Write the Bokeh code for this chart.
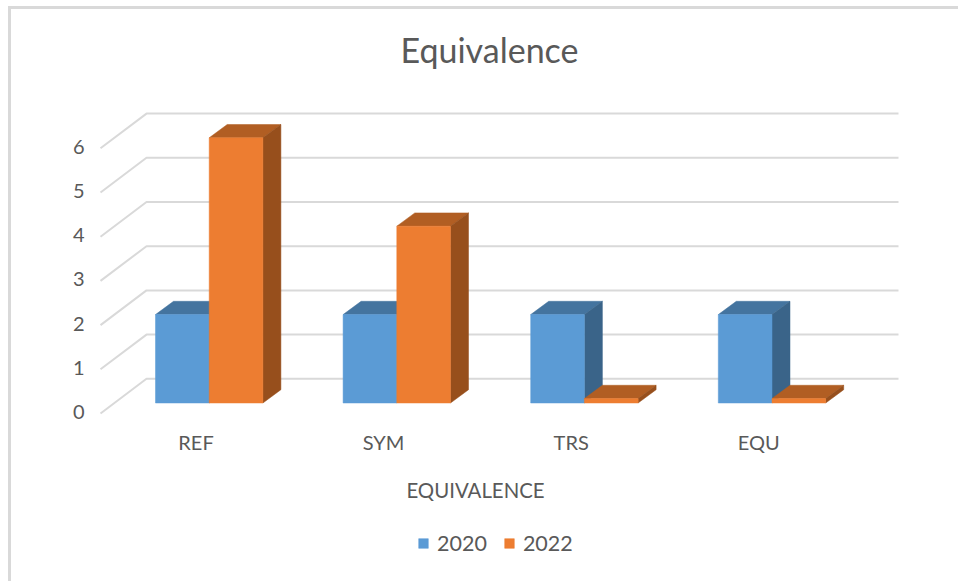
from bokeh.embed import file_html
from bokeh.models import (ColumnDataSource, FixedTicker, Label, Legend, LegendItem,
                          LinearAxis, Range1d)
from bokeh.plotting import figure
from bokeh.resources import INLINE

# Chart content
TITLE = "Equivalence"
X_TITLE = "EQUIVALENCE"
CATEGORIES = ["REF", "SYM", "TRS", "EQU"]
Y_TICKS = [0, 1, 2, 3, 4, 5, 6]
SERIES_2020 = [2, 2, 2, 2]
SERIES_2022 = [6, 4, 0.1, 0.1]

# Palette
FONT = "Lato"
TEXT = "#595959"
GRID = "#d9d9d9"
BLUE = ("#5b9bd5", "#44749f", "#3a6489")
ORANGE = ("#ed7d31", "#b15e23", "#974f1c")

# The frame fills the page; these set the scales and the oblique 3-D projection
PAGE_W, PAGE_H = 958, 581
PX_PER_CAT = 187.6
PX_PER_UNIT = 44.2
FIRST_CAT_PX = 195.5
ZERO_PX = 411.5


def sx(px):
    return px / PX_PER_CAT


def sy(px):
    return px / PX_PER_UNIT


def page_x(px):
    return sx(px - FIRST_CAT_PX)


def page_y(px):
    return sy(ZERO_PX - px)


p = figure(
    width=PAGE_W, height=PAGE_H, output_backend="svg", toolbar_location=None,
    x_axis_location=None, y_axis_location=None,
    x_range=Range1d(page_x(0), page_x(PAGE_W)),
    y_range=Range1d(page_y(PAGE_H), page_y(0)),
    min_border_left=0, min_border_right=0, min_border_top=0, min_border_bottom=0,
    background_fill_alpha=0, border_fill_alpha=0,
)
p.outline_line_color = None
p.grid.visible = False

# Chart-area border: only the left and top edges show on the page
p.styles = {
    "background-color": "white",
    "background-image": f"linear-gradient({GRID},{GRID}),linear-gradient({GRID},{GRID})",
    "background-size": "950px 3px,3px 575px",
    "background-position": "8px 6px,8px 6px",
    "background-repeat": "no-repeat",
}

# Side and back gridlines: floor-front corner, wall corner, far right end
front_x, back_x, end_x = page_x(100), page_x(146), page_x(898)
front_dy, back_dy = sy(-1.5), sy(33.2)
grid_xs = [[front_x, back_x, end_x] for _ in Y_TICKS]
grid_ys = [[v + front_dy, v + back_dy, v + back_dy] for v in Y_TICKS]
p.multi_line(grid_xs, grid_ys, line_color=GRID, line_width=2)

# Bar geometry
BAR_W = sx(53.7)
BAR_LEFT = sx(155 - FIRST_CAT_PX)
BAR_FRONT = sy(9)
DEPTH_X, DEPTH_Y = sx(18), sy(13.3)


def bar_faces(values, lefts):
    """Front, top and side polygons for a row of oblique bars."""
    front = dict(xs=[], ys=[])
    top = dict(xs=[], ys=[])
    side = dict(xs=[], ys=[])
    for v, l in zip(values, lefts):
        r = l + BAR_W
        b, t = BAR_FRONT, v + BAR_FRONT
        front["xs"].append([l, r, r, l])
        front["ys"].append([b, b, t, t])
        top["xs"].append([l, r, r + DEPTH_X, l + DEPTH_X])
        top["ys"].append([t, t, t + DEPTH_Y, t + DEPTH_Y])
        side["xs"].append([r, r + DEPTH_X, r + DEPTH_X, r])
        side["ys"].append([b, b + DEPTH_Y, t + DEPTH_Y, t])
    return front, top, side


positions = range(len(CATEGORIES))
legend_items = []
for name, values, colors, shift in (
    ("2020", SERIES_2020, BLUE, 0.0),
    ("2022", SERIES_2022, ORANGE, BAR_W),
):
    lefts = [i + BAR_LEFT + shift for i in positions]
    front, top, side = bar_faces(values, lefts)
    p.patches("xs", "ys", source=ColumnDataSource(top), fill_color=colors[1], line_color=colors[1], line_width=0.5)
    p.patches("xs", "ys", source=ColumnDataSource(side), fill_color=colors[2], line_color=colors[2], line_width=0.5)
    r = p.patches("xs", "ys", source=ColumnDataSource(front), fill_color=colors[0], line_color=colors[0], line_width=0.5)
    legend_items.append(LegendItem(label=name, renderers=[r]))

# Axes pinned inside the full-page frame
y_axis = LinearAxis(ticker=FixedTicker(ticks=Y_TICKS), fixed_location=page_x(100))
y_axis.axis_line_color = None
y_axis.major_tick_line_color = None
y_axis.minor_tick_line_color = None
y_axis.major_label_text_font = FONT
y_axis.major_label_text_font_size = "20px"
y_axis.major_label_text_color = TEXT
y_axis.major_label_standoff = 10
p.add_layout(y_axis, "left")

x_axis = LinearAxis(
    ticker=FixedTicker(ticks=list(positions)),
    major_label_overrides={i: c for i, c in enumerate(CATEGORIES)},
    fixed_location=page_y(414),
)
x_axis.axis_line_color = None
x_axis.major_tick_line_color = None
x_axis.minor_tick_line_color = None
x_axis.major_label_text_font = FONT
x_axis.major_label_text_font_size = "20px"
x_axis.major_label_text_color = TEXT
x_axis.major_label_standoff = 9
p.add_layout(x_axis, "below")

# Chart title and axis caption
p.add_layout(Label(
    x=page_x(489), y=page_y(49), text=TITLE, text_font=FONT, text_font_size="34px",
    text_color=TEXT, text_align="center", text_baseline="middle",
))
p.add_layout(Label(
    x=page_x(475), y=page_y(489), text=X_TITLE, text_font=FONT, text_font_size="20.4px",
    text_color=TEXT, text_align="center", text_baseline="middle",
))

legend = Legend(
    items=legend_items, orientation="horizontal",
    location=(417, 25),
    background_fill_alpha=0, border_line_color=None, padding=2, margin=0,
    glyph_width=12, glyph_height=12, label_standoff=8, spacing=16,
    label_text_font=FONT, label_text_font_size="21.5px", label_text_color=TEXT,
)
p.add_layout(legend, "center")

open("out.html", "w").write(file_html(p, INLINE))
